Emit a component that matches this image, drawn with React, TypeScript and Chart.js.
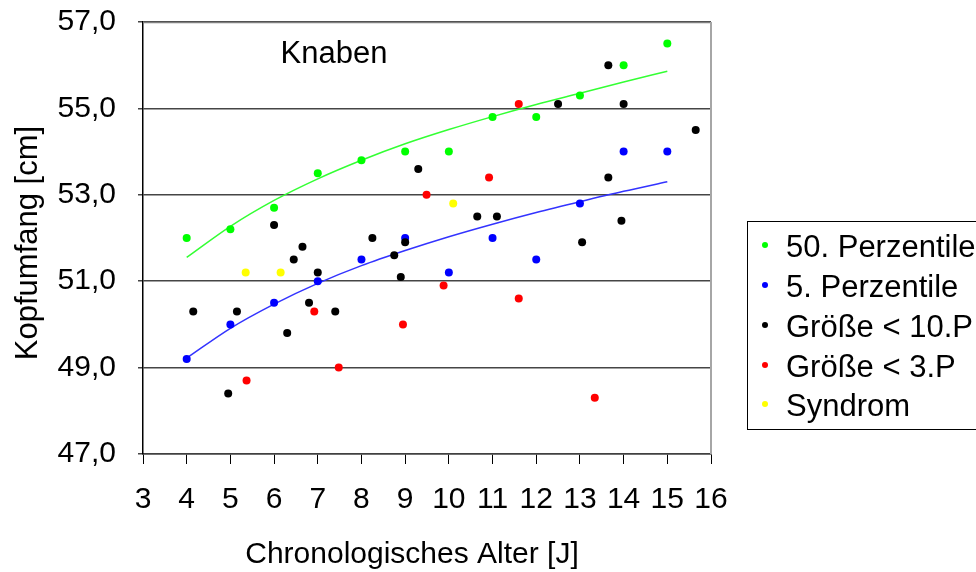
import React, { useEffect, useRef } from "react";
import { Chart, registerables } from "chart.js";

Chart.register(...registerables);

const FONT = '"Liberation Sans", Arial, sans-serif';

// 50. Perzentile (Referenzpunkte)
const p50X = [4, 5, 6, 7, 8, 9, 10, 11, 12, 13, 14, 15];
const p50Y = [52.0, 52.2, 52.7, 53.5, 53.8, 54.0, 54.0, 54.8, 54.8, 55.3, 56.0, 56.5];
// 5. Perzentile
const p5X = [4, 5, 6, 7, 8, 9, 10, 11, 12, 13, 14, 15];
const p5Y = [49.2, 50.0, 50.5, 51.0, 51.5, 52.0, 51.2, 52.0, 51.5, 52.8, 54.0, 54.0];
// Größe < 10.P
const lt10X = [4.15, 4.95, 5.15, 6.0, 6.3, 6.45, 6.65, 6.8, 7.0, 7.4, 8.25, 8.75, 8.9, 9.0, 9.3, 10.65, 11.1, 12.5, 13.05, 13.65, 13.65, 13.95, 14.0, 15.65];
const lt10Y = [50.3, 48.4, 50.3, 52.3, 49.8, 51.5, 51.8, 50.5, 51.2, 50.3, 52.0, 51.6, 51.1, 51.9, 53.6, 52.5, 52.5, 55.1, 51.9, 53.4, 56.0, 52.4, 55.1, 54.5];
// Größe < 3.P
const lt3X = [5.37, 6.92, 7.48, 8.95, 9.49, 9.88, 10.92, 11.6, 11.6, 13.34];
const lt3Y = [48.7, 50.3, 49.0, 50.0, 53.0, 50.9, 53.4, 55.1, 50.6, 48.3];
// Syndrom
const synX = [5.35, 6.15, 10.1];
const synY = [51.2, 51.2, 52.8];

// Trendlinien
const trendX = [4, 5, 6, 7, 8, 9, 10, 11, 12, 13, 14, 15];
const trend50Y = [51.55, 52.27, 52.87, 53.37, 53.8, 54.18, 54.51, 54.81, 55.09, 55.35, 55.61, 55.86];
const trend5Y = [49.22, 49.91, 50.47, 50.95, 51.36, 51.71, 52.03, 52.32, 52.59, 52.84, 53.08, 53.3];

const yTicks = [47, 49, 51, 53, 55, 57];
const xTickStep = 1;

const zip = (xs: number[], ys: number[]) => xs.map((x, i) => ({ x, y: ys[i] }));

const series = [
  { label: "50. Perzentile", color: "#00ff00", xs: p50X, ys: p50Y, order: 5 },
  { label: "5. Perzentile", color: "#0000ff", xs: p5X, ys: p5Y, order: 4 },
  { label: "Größe < 10.P", color: "#000000", xs: lt10X, ys: lt10Y, order: 3 },
  { label: "Größe < 3.P", color: "#ff0000", xs: lt3X, ys: lt3Y, order: 2 },
  { label: "Syndrom", color: "#ffff00", xs: synX, ys: synY, order: 1 },
];

const decor = {
  id: "decor",
  beforeDatasetsDraw(chart: any) {
    const { ctx, chartArea: a } = chart;
    ctx.save();
    ctx.strokeStyle = "#808080";
    ctx.lineWidth = 1.5;
    ctx.beginPath();
    ctx.moveTo(a.left, a.top + 0.5);
    ctx.lineTo(a.right, a.top + 0.5);
    ctx.stroke();
    ctx.strokeStyle = "#a6a6a6";
    ctx.lineWidth = 2;
    ctx.beginPath();
    ctx.moveTo(a.right, a.top);
    ctx.lineTo(a.right, a.bottom);
    ctx.stroke();
    ctx.restore();
  },
  afterDraw(chart: any) {
    const { ctx } = chart;
    ctx.save();
    ctx.fillStyle = "#000";
    // Knaben
    ctx.font = `31px ${FONT}`;
    ctx.textAlign = "center";
    ctx.textBaseline = "alphabetic";
    ctx.fillText("Knaben", 334, 63);
    // x title
    ctx.font = `30px ${FONT}`;
    ctx.fillText("Chronologisches Alter [J]", 412, 563);
    // y title
    ctx.save();
    ctx.translate(37, 243);
    ctx.rotate(-Math.PI / 2);
    ctx.font = `31px ${FONT}`;
    ctx.fillText("Kopfumfang [cm]", 0, 0);
    ctx.restore();
    // legend
    ctx.strokeStyle = "#000";
    ctx.lineWidth = 1;
    ctx.strokeRect(747.5, 221.5, 300, 208);
    ctx.font = `31px ${FONT}`;
    ctx.textAlign = "left";
    series.forEach((s, i) => {
      const base = 257 + i * 40 - (i === 4 ? 1 : 0);
      ctx.fillStyle = s.color;
      ctx.beginPath();
      ctx.arc(765, base - 12, 3, 0, Math.PI * 2);
      ctx.fill();
      ctx.fillStyle = "#000";
      ctx.fillText(s.label, 786, base);
    });
    ctx.restore();
  },
};

export default function App() {
  const ref = useRef<HTMLCanvasElement>(null);
  useEffect(() => {
    if (!ref.current) return;
    const datasets: any[] = series.map((s) => ({
      label: s.label,
      data: zip(s.xs, s.ys),
      backgroundColor: s.color,
      borderColor: s.color,
      pointRadius: 4,
      pointBorderWidth: 0,
      showLine: false,
      order: s.order,
    }));
    datasets.push({
      label: "Trend 50",
      data: zip(trendX, trend50Y),
      borderColor: "#33ff33",
      borderWidth: 1.5,
      pointRadius: 0,
      showLine: true,
      cubicInterpolationMode: "monotone",
      order: 10,
    });
    datasets.push({
      label: "Trend 5",
      data: zip(trendX, trend5Y),
      borderColor: "#3333ff",
      borderWidth: 1.5,
      pointRadius: 0,
      showLine: true,
      cubicInterpolationMode: "monotone",
      order: 10,
    });
    const chart = new Chart(ref.current, {
      type: "scatter",
      data: { datasets },
      options: {
        animation: false,
        responsive: false,
        events: [],
        layout: { padding: { left: 0, top: 22, right: 265, bottom: 0 } },
        plugins: { legend: { display: false }, tooltip: { enabled: false } },
        scales: {
          x: {
            type: "linear",
            min: 3,
            max: 16,
            afterFit: (s: any) => {
              s.height = 118;
              s.paddingLeft = 0;
              s.paddingRight = 0;
            },
            ticks: {
              stepSize: xTickStep,
              color: "#000",
              font: { family: FONT, size: 30 },
              padding: 18,
              maxRotation: 0,
              autoSkip: false,
            },
            grid: { drawOnChartArea: false, color: "#000", tickLength: 10 },
            border: { color: "#404040", width: 1.5 },
          },
          y: {
            type: "linear",
            min: 47,
            max: 57,
            afterFit: (s: any) => {
              s.width = 143;
              s.paddingTop = 0;
              s.paddingBottom = 0;
            },
            afterBuildTicks: (s: any) => {
              s.ticks = yTicks.map((v) => ({ value: v }));
            },
            ticks: {
              color: "#000",
              font: { family: FONT, size: 30 },
              padding: 22,
              callback: (v: any) => Number(v).toFixed(1).replace(".", ","),
            },
            grid: { color: "#454545", lineWidth: 1.5, tickLength: 5 },
            border: { color: "#000", width: 1.5 },
          },
        },
      },
      plugins: [decor],
    });
    return () => chart.destroy();
  }, []);
  return (
    <div style={{ position: "fixed", left: 0, top: 0, width: 976, height: 572, background: "#fff" }}>
      <canvas ref={ref} width={976} height={572} style={{ display: "block" }} />
    </div>
  );
}
